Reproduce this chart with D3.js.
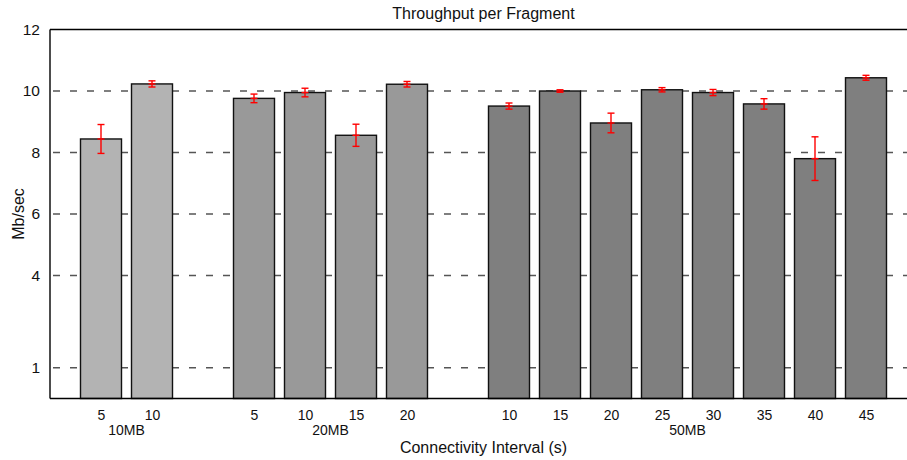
<!DOCTYPE html>
<html><head><meta charset="utf-8">
<script src="https://cdn.jsdelivr.net/npm/d3@7"></script>
<style>body{margin:0;background:#fff}svg{display:block;font-family:"Liberation Sans",Arial,sans-serif}</style>
</head><body><svg id="c" width="907" height="460"></svg>
<script>
const groups = ["10MB", "20MB", "50MB"];
const groupColors = ["#b3b3b3", "#999999", "#7f7f7f"];
const intervals10 = ["5", "10"];
const values10 = [8.44, 10.23];
const errors10 = [0.47, 0.10];
const intervals20 = ["5", "10", "15", "20"];
const values20 = [9.76, 9.95, 8.56, 10.22];
const errors20 = [0.14, 0.14, 0.36, 0.09];
const intervals50 = ["10", "15", "20", "25", "30", "35", "40", "45"];
const values50 = [9.51, 10.00, 8.96, 10.04, 9.95, 9.58, 7.80, 10.43];
const errors50 = [0.10, 0.04, 0.32, 0.07, 0.10, 0.17, 0.71, 0.08];
const yTicks = [1, 4, 6, 8, 10, 12];

const W = 907, H = 460;
const m = {left: 50, top: 29.5, bottom: 398.5, right: 917};
const svg = d3.select("#c");

const slotLists = [intervals10, intervals20, intervals50];
const valueLists = [values10, values20, values50];
const errorLists = [errors10, errors20, errors50];
const data = [];
let slot = 1;
slotLists.forEach((ivs, gi) => {
  ivs.forEach((iv, i) => {
    data.push({group: gi, label: iv, value: valueLists[gi][i], err: errorLists[gi][i], slot: slot});
    slot++;
  });
  slot++;
});
const nSlots = slot;

const x = d3.scaleLinear().domain([0, nSlots - 1]).range([m.left, m.right]);
const y = d3.scaleLinear().domain([0, 12]).range([m.bottom, m.top]);
const bw = 41;

// gridlines
svg.append("g").selectAll("line").data(yTicks.filter(t => t !== 12)).join("line")
  .attr("x1", m.left).attr("x2", W).attr("y1", d => y(d)).attr("y2", d => y(d))
  .attr("stroke", "#555").attr("stroke-width", 1.3).attr("stroke-dasharray", "7,10")
  .attr("stroke-dashoffset", -3);

// bars
svg.append("g").selectAll("rect").data(data).join("rect")
  .attr("x", d => x(d.slot) - bw / 2).attr("width", bw)
  .attr("y", d => y(d.value)).attr("height", d => y(0) - y(d.value))
  .attr("fill", d => groupColors[d.group]).attr("stroke", "#111").attr("stroke-width", 1.4);

// error bars
const eg = svg.append("g").attr("stroke", "#ff0000").attr("stroke-width", 1.4);
data.forEach(d => {
  const cx = x(d.slot);
  eg.append("line").attr("x1", cx).attr("x2", cx).attr("y1", y(d.value + d.err)).attr("y2", y(d.value - d.err));
  [d.value + d.err, d.value - d.err, d.value].forEach(v => {
    eg.append("line").attr("x1", cx - 3.5).attr("x2", cx + 3.5).attr("y1", y(v)).attr("y2", y(v));
  });
});

// axes frame
svg.append("line").attr("x1", m.left).attr("x2", W).attr("y1", m.top).attr("y2", m.top).attr("stroke", "#000").attr("stroke-width", 1.4);
svg.append("line").attr("x1", m.left).attr("x2", W).attr("y1", m.bottom).attr("y2", m.bottom).attr("stroke", "#000").attr("stroke-width", 1.4);
svg.append("line").attr("x1", m.left).attr("x2", m.left).attr("y1", m.top).attr("y2", m.bottom).attr("stroke", "#000").attr("stroke-width", 1.4);

// y tick labels
const yAxis = d3.axisLeft(y).tickValues(yTicks).tickSize(0).tickPadding(10).tickFormat(d3.format("d"));
const ya = svg.append("g").attr("transform", `translate(${m.left},0)`).call(yAxis);
ya.select(".domain").remove();
ya.selectAll("text").attr("font-size", 15.5).attr("fill", "#111").attr("font-family", "Liberation Sans, Arial, sans-serif");

// x tick labels
const xAxis = d3.axisBottom(x).tickValues(data.map(d => d.slot)).tickSize(0).tickPadding(12)
  .tickFormat(s => data.find(d => d.slot === s).label);
const xa = svg.append("g").attr("transform", `translate(0,${m.bottom})`).call(xAxis);
xa.select(".domain").remove();
xa.selectAll("text").attr("font-size", 14).attr("fill", "#111").attr("font-family", "Liberation Sans, Arial, sans-serif");

// group labels
groups.forEach((g, gi) => {
  const ss = data.filter(d => d.group === gi).map(d => d.slot);
  const cx = (x(d3.min(ss)) + x(d3.max(ss))) / 2;
  svg.append("text").attr("x", cx).attr("y", 435).attr("text-anchor", "middle")
    .attr("font-size", 14).attr("fill", "#111").text(g);
});

// titles
svg.append("text").attr("x", (m.left + m.right) / 2).attr("y", 19).attr("text-anchor", "middle")
  .attr("font-size", 16).attr("fill", "#111").text("Throughput per Fragment");
svg.append("text").attr("x", (m.left + m.right) / 2).attr("y", 453).attr("text-anchor", "middle")
  .attr("font-size", 16).attr("fill", "#111").text("Connectivity Interval (s)");
svg.append("text").attr("transform", `translate(24,${(m.top + m.bottom) / 2}) rotate(-90)`).attr("text-anchor", "middle")
  .attr("font-size", 16).attr("fill", "#111").text("Mb/sec");
</script></body></html>
